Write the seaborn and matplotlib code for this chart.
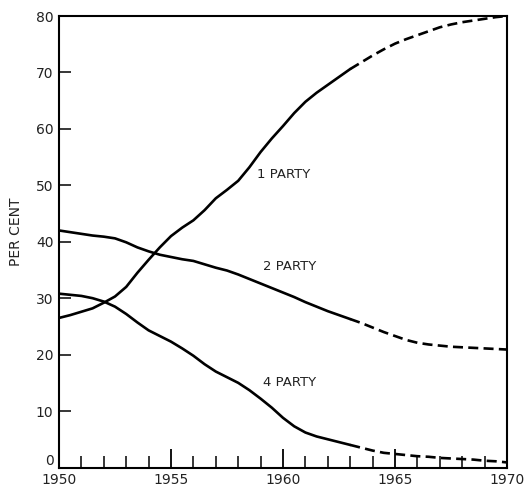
import matplotlib
matplotlib.use("Agg")
import matplotlib.pyplot as plt
import seaborn as sns
import pandas as pd
from matplotlib.ticker import MultipleLocator

# ---- data ----
years_solid = [1950.0, 1950.5, 1951.0, 1951.5, 1952.0, 1952.5, 1953.0, 1953.5, 1954.0,
               1954.5, 1955.0, 1955.5, 1956.0, 1956.5, 1957.0, 1957.5, 1958.0, 1958.5,
               1959.0, 1959.5, 1960.0, 1960.5, 1961.0, 1961.5, 1962.0, 1962.5, 1963.0]
years_dashed = [1963.0, 1963.5, 1964.0, 1964.5, 1965.0, 1965.5, 1966.0, 1966.5, 1967.0,
                1967.5, 1968.0, 1968.5, 1969.0, 1969.5, 1970.0]

one_party_solid = [26.5, 27.0, 27.6, 28.2, 29.2, 30.3, 32.0, 34.5, 36.8,
                   39.0, 41.0, 42.5, 43.8, 45.6, 47.7, 49.2, 50.8, 53.2,
                   55.9, 58.3, 60.5, 62.8, 64.8, 66.4, 67.8, 69.2, 70.6]
one_party_dashed = [70.6, 71.8, 73.0, 74.1, 75.1, 75.9, 76.6, 77.3, 78.0,
                    78.5, 78.9, 79.2, 79.5, 79.8, 80.0]

two_party_solid = [42.0, 41.7, 41.4, 41.1, 40.9, 40.6, 39.9, 39.0, 38.3,
                   37.7, 37.3, 36.9, 36.6, 36.0, 35.4, 34.9, 34.2, 33.4,
                   32.6, 31.8, 31.0, 30.2, 29.3, 28.5, 27.7, 27.0, 26.3]
two_party_dashed = [26.3, 25.6, 24.8, 24.0, 23.3, 22.6, 22.1, 21.8, 21.6,
                    21.4, 21.3, 21.2, 21.1, 21.0, 20.9]

four_party_solid = [30.8, 30.6, 30.4, 30.0, 29.4, 28.5, 27.2, 25.7, 24.3,
                    23.3, 22.3, 21.1, 19.8, 18.3, 17.0, 16.0, 15.0, 13.7,
                    12.2, 10.6, 8.8, 7.3, 6.2, 5.5, 5.0, 4.5, 4.0]
four_party_dashed = [4.0, 3.5, 3.0, 2.6, 2.4, 2.2, 2.0, 1.9, 1.7,
                     1.6, 1.5, 1.4, 1.2, 1.1, 0.9]

series_names = ["1 PARTY", "2 PARTY", "4 PARTY"]
label_years = [1960.05, 1960.3, 1960.3]
label_values = [52.0, 35.7, 15.0]

x_tick_labels = ["1950", "1955", "1960", "1965", "1970"]
y_tick_labels = ["0", "10", "20", "30", "40", "50", "60", "70", "80"]

# ---- build tidy table ----
rows = []
for name, s, d in zip(series_names,
                      [one_party_solid, two_party_solid, four_party_solid],
                      [one_party_dashed, two_party_dashed, four_party_dashed]):
    for y, v in zip(years_solid, s):
        rows.append((name, "solid", y, v))
    for y, v in zip(years_dashed, d):
        rows.append((name, "dashed", y, v))
df = pd.DataFrame(rows, columns=["series", "segment", "year", "value"])

sns.set_style("ticks")
plt.rcParams["font.family"] = ["DejaVu Sans"]

fig = plt.figure(figsize=(5.25, 4.86), dpi=100)
ax = fig.add_axes([59 / 525, 18.5 / 486, 448 / 525, 451.5 / 486])

lw = 1.9
for name in series_names:
    sub = df[(df.series == name) & (df.segment == "solid")]
    sns.lineplot(data=sub, x="year", y="value", ax=ax, color="black", lw=lw,
                 estimator=None, sort=False, solid_capstyle="round",
                 solid_joinstyle="round")
    sub = df[(df.series == name) & (df.segment == "dashed")]
    sns.lineplot(data=sub, x="year", y="value", ax=ax, color="black", lw=lw,
                 estimator=None, sort=False, linestyle=(0, (3.8, 2.0)))

for name, xv, yv in zip(series_names, label_years, label_values):
    ax.text(xv, yv, name, ha="center", va="center", fontsize=9.5, color="#222222")

ax.set_xlim(1950, 1970)
ax.set_ylim(0, 80)
ax.set_xticks([int(t) for t in x_tick_labels])
ax.set_xticklabels(x_tick_labels)
ax.set_yticks([int(t) for t in y_tick_labels])
ax.set_yticklabels(y_tick_labels)
ax.xaxis.set_minor_locator(MultipleLocator(1))
ax.set_xlabel("")
ax.set_ylabel("")

for sp in ax.spines.values():
    sp.set_visible(True)
    sp.set_linewidth(1.5)
    sp.set_color("black")

ax.tick_params(axis="x", which="major", direction="in", length=13.5, width=1.3,
               labelsize=10, pad=4, top=False, colors="black")
ax.tick_params(axis="x", which="minor", direction="in", length=8.5, width=1.1,
               top=False, colors="black")
ax.tick_params(axis="y", which="major", direction="in", length=8.5, width=1.1,
               labelsize=10, pad=4, right=False, colors="black")
for lab in ax.get_xticklabels() + ax.get_yticklabels():
    lab.set_color("#222222")
# the "0" label sits just above the bottom axis line, as in the reference
ax.get_yticklabels()[0].set_verticalalignment("bottom")

fig.text(16 / 525, 0.523, "PER CENT", rotation=90, ha="center", va="center",
         fontsize=10, color="#222222")

fig.savefig("out.png", dpi=100)
